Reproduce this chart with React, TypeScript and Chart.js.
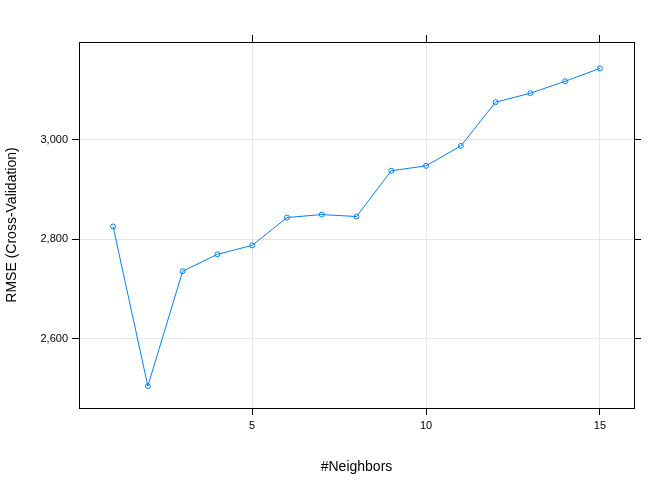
import React, { useEffect, useRef } from 'react';
import { Chart, registerables } from 'chart.js';

Chart.register(...registerables);

const neighbors = [1, 2, 3, 4, 5, 6, 7, 8, 9, 10, 11, 12, 13, 14, 15];
const rmse = [2826, 2505, 2736, 2770, 2788, 2844, 2850, 2846, 2938, 2948, 2988, 3076, 3094, 3118, 3144];
const xTicks = [5, 10, 15];
const yTicks = [2600, 2800, 3000];

const font = { family: 'Liberation Sans, Arial, sans-serif', size: 11 };
const gridColor = '#e6e6e6';

export default function App() {
  const ref = useRef<HTMLCanvasElement>(null);
  useEffect(() => {
    document.body.style.margin = '0';
    if (!ref.current) return;
    const setTicks = (vals: number[]) => (s: any) => {
      s.ticks = vals.map((v) => ({ value: v }));
    };
    const chart = new Chart(ref.current, {
      type: 'line',
      data: {
        datasets: [
          {
            data: neighbors.map((n, i) => ({ x: n, y: rmse[i] })),
            borderColor: '#0080ff',
            borderWidth: 1,
            pointStyle: 'circle',
            pointRadius: 2.5,
            pointBorderWidth: 1,
            pointBackgroundColor: 'rgba(0,0,0,0)',
            pointBorderColor: '#0080ff',
            tension: 0,
          },
        ],
      },
      options: {
        responsive: false,
        animation: false,
        layout: { padding: 0 },
        plugins: { legend: { display: false }, tooltip: { enabled: false } },
        scales: {
          x: {
            type: 'linear',
            position: 'bottom',
            min: 0.02,
            max: 15.98,
            afterBuildTicks: setTicks(xTicks),
            afterFit: (s: any) => { s.height = 72; },
            border: { color: '#000', width: 1 },
            grid: { color: gridColor, tickColor: '#000', tickLength: 7 },
            ticks: { color: '#000', font, padding: 4, maxRotation: 0 },
            title: { display: true, text: '#Neighbors', color: '#000', font: { ...font, size: 14 }, padding: { top: 12 } },
          },
          x2: {
            type: 'linear',
            position: 'top',
            min: 0.02,
            max: 15.98,
            afterBuildTicks: setTicks(xTicks),
            afterFit: (s: any) => { s.height = 42; },
            border: { color: '#000', width: 1 },
            grid: { drawOnChartArea: false, tickColor: '#000', tickLength: 7 },
            ticks: { display: false },
          },
          y: {
            type: 'linear',
            position: 'left',
            min: 2461,
            max: 3197,
            afterBuildTicks: setTicks(yTicks),
            afterFit: (s: any) => { s.width = 79; },
            border: { color: '#000', width: 1 },
            grid: { color: gridColor, tickColor: '#000', tickLength: 7 },
            ticks: { color: '#000', font, padding: 4 },
            title: { display: true, text: 'RMSE (Cross-Validation)', color: '#000', font: { ...font, size: 14 }, padding: { bottom: 6 } },
          },
          y2: {
            type: 'linear',
            position: 'right',
            min: 2461,
            max: 3197,
            afterBuildTicks: setTicks(yTicks),
            afterFit: (s: any) => { s.width = 38; },
            border: { color: '#000', width: 1 },
            grid: { drawOnChartArea: false, tickColor: '#000', tickLength: 7 },
            ticks: { display: false },
          },
        },
      },
    });
    return () => chart.destroy();
  }, []);
  return (
    <div style={{ width: 672, height: 480, background: '#fff' }}>
      <canvas ref={ref} width={672} height={480} />
    </div>
  );
}
